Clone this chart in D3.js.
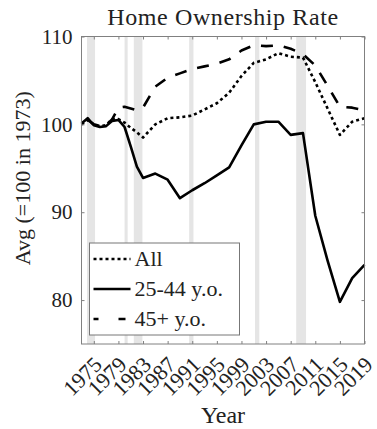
<!DOCTYPE html>
<html>
<head>
<meta charset="utf-8">
<script src="https://cdn.jsdelivr.net/npm/d3@7"></script>
<style>
  body { margin: 0; background: #fff; }
  svg text { font-family: "Liberation Serif", "DejaVu Serif", serif !important; fill: #222; }
</style>
</head>
<body>
<div id="chart"></div>
<script>
// Data
const years = [1973, 1974, 1975, 1976, 1977, 1978, 1979, 1980, 1981, 1982, 1983, 1985, 1987, 1989,
  1991, 1993, 1995, 1997, 1999, 2001, 2003, 2005, 2007, 2009, 2011, 2013, 2015, 2017, 2019];
const allAges = [100.0, 100.5, 100.0, 99.8, 99.9, 100.6, 100.6, 100.2, 99.6, 99.1, 98.5, 100.0, 100.7, 100.8,
  101.0, 101.7, 102.4, 103.6, 105.5, 107.0, 107.4, 108.1, 107.7, 107.6, 104.8, 101.8, 98.8, 100.3, 100.7];
const young = [100.1, 100.7, 99.9, 99.7, 99.8, 100.4, 100.5, 99.7, 97.5, 95.2, 93.9, 94.4, 93.7, 91.6,
  92.5, 93.3, 94.2, 95.1, 97.6, 100.0, 100.3, 100.3, 98.8, 99.0, 89.6, 84.5, 79.8, 82.5, 84.0];
const older = [100.0, 100.5, 100.0, 99.8, 99.9, 100.6, 101.9, 102.0, 101.8, 101.6, 101.9, 104.3, 105.3, 105.8,
  106.3, 106.6, 106.9, 107.4, 108.4, 109.0, 108.9, 109.0, 108.6, 108.0, 106.7, 104.4, 102.0, 101.9, 101.6];

const seriesNames = ["All", "25-44 y.o.", "45+ y.o."];
const seriesValues = [allAges, young, older];
const seriesDash = ["3,3", null, "12,11"];

// recessions (shaded)
const recStart = [1973.9, 1980.0, 1981.5, 1990.5, 2001.2, 2007.9];
const recEnd = [1975.2, 1980.5, 1982.9, 1991.2, 2001.9, 2009.5];

const xTicks = d3.range(1975, 2020, 4);
const yTicks = [80, 90, 100, 110];

const W = 377, H = 429;
const mLeft = 81.5, mRight = 364.5, mTop = 36.5, mBottom = 344;
const serif = "Liberation Serif, DejaVu Serif, serif";

const svg = d3.select("#chart").append("svg")
  .attr("width", W)
  .attr("height", H)
  .attr("font-family", serif);

const x = d3.scaleLinear().domain([1973, 2019]).range([mLeft, mRight]);
const y = d3.scaleLinear().domain([75, 110]).range([mBottom, mTop]);

// recession bands
svg.append("g")
  .selectAll("rect")
  .data(recStart.map((s, i) => [s, recEnd[i]]))
  .join("rect")
  .attr("x", d => x(d[0]))
  .attr("width", d => x(d[1]) - x(d[0]))
  .attr("y", mTop)
  .attr("height", mBottom - mTop)
  .attr("fill", "#e5e5e5");

// lines
const line = d3.line()
  .x((d, i) => x(years[i]))
  .y(d => y(d));

const paths = svg.append("g")
  .selectAll("path")
  .data(seriesValues)
  .join("path")
  .attr("d", d => line(d))
  .attr("fill", "none")
  .attr("stroke", "#000")
  .attr("stroke-width", 2.6)
  .attr("stroke-linejoin", "round")
  .attr("stroke-dasharray", (d, i) => seriesDash[i]);

// shift the dash pattern of the 45+ line so a dash starts around 1979.7
const dashedNode = paths.nodes()[2];
let lo = 0, hi = dashedNode.getTotalLength();
while (hi - lo > 0.2) {
  const mid = (lo + hi) / 2;
  if (dashedNode.getPointAtLength(mid).x < x(1979.7)) lo = mid; else hi = mid;
}
d3.select(dashedNode).attr("stroke-dashoffset", (23 - (lo % 23)) % 23);

// axes (ticks point inward like matlab)
const axCol = "#808080";
function styleAxis(g) {
  g.select(".domain").remove();
  g.attr("font-family", serif);
  g.selectAll(".tick line").attr("stroke", axCol);
}

svg.append("g")
  .attr("transform", `translate(${mLeft},0)`)
  .call(d3.axisLeft(y).tickValues(yTicks).tickSizeInner(-3).tickSizeOuter(0).tickPadding(9))
  .call(styleAxis)
  .call(g => g.selectAll("text").attr("font-size", "21px").attr("fill", "#222"));

svg.append("g")
  .attr("transform", `translate(${mRight},0)`)
  .call(d3.axisRight(y).tickValues(yTicks).tickSizeInner(-3).tickSizeOuter(0).tickFormat(""))
  .call(styleAxis);

svg.append("g")
  .attr("transform", `translate(0,${mTop})`)
  .call(d3.axisTop(x).tickValues(xTicks).tickSizeInner(-3).tickSizeOuter(0).tickFormat(""))
  .call(styleAxis);

svg.append("g")
  .attr("transform", `translate(0,${mBottom})`)
  .call(d3.axisBottom(x).tickValues(xTicks).tickSizeInner(-3).tickSizeOuter(0).tickFormat(d3.format("d")))
  .call(styleAxis)
  .call(g => g.selectAll("text")
    .attr("font-size", "22px")
    .attr("fill", "#222")
    .attr("text-anchor", "end")
    .attr("dy", 0)
    .attr("y", 0)
    .attr("transform", "translate(9,22) rotate(-45)"));

// frame
svg.append("rect")
  .attr("x", mLeft).attr("y", mTop)
  .attr("width", mRight - mLeft).attr("height", mBottom - mTop)
  .attr("fill", "none")
  .attr("stroke", axCol)
  .attr("stroke-width", 1);

// titles
svg.append("text")
  .attr("x", (mLeft + mRight) / 2)
  .attr("y", 25)
  .attr("text-anchor", "middle")
  .attr("font-size", "24px")
  .attr("letter-spacing", "0.6px")
  .text("Home Ownership Rate");

svg.append("text")
  .attr("x", (mLeft + mRight) / 2)
  .attr("y", 423)
  .attr("text-anchor", "middle")
  .attr("font-size", "24px")
  .text("Year");

svg.append("text")
  .attr("transform", `translate(30,${(mTop + mBottom) / 2 - 12}) rotate(-90)`)
  .attr("text-anchor", "middle")
  .attr("font-size", "22px")
  .text("Avg (=100 in 1973)");

// legend
const lg = svg.append("g").attr("transform", "translate(89.5,243)");
lg.append("rect")
  .attr("width", 150).attr("height", 92)
  .attr("fill", "#fff")
  .attr("stroke", "#777")
  .attr("stroke-width", 1);

const legDash = ["3,3", null, "5,20,7"];
seriesNames.forEach((name, i) => {
  const ly = 16 + i * 30;
  lg.append("line")
    .attr("x1", 4).attr("x2", 41)
    .attr("y1", ly).attr("y2", ly)
    .attr("stroke", "#000")
    .attr("stroke-width", 2.6)
    .attr("stroke-dasharray", legDash[i]);
  lg.append("text")
    .attr("x", 45)
    .attr("y", ly + 7)
    .attr("font-size", "22px")
    .text(name);
});
</script>
</body>
</html>
